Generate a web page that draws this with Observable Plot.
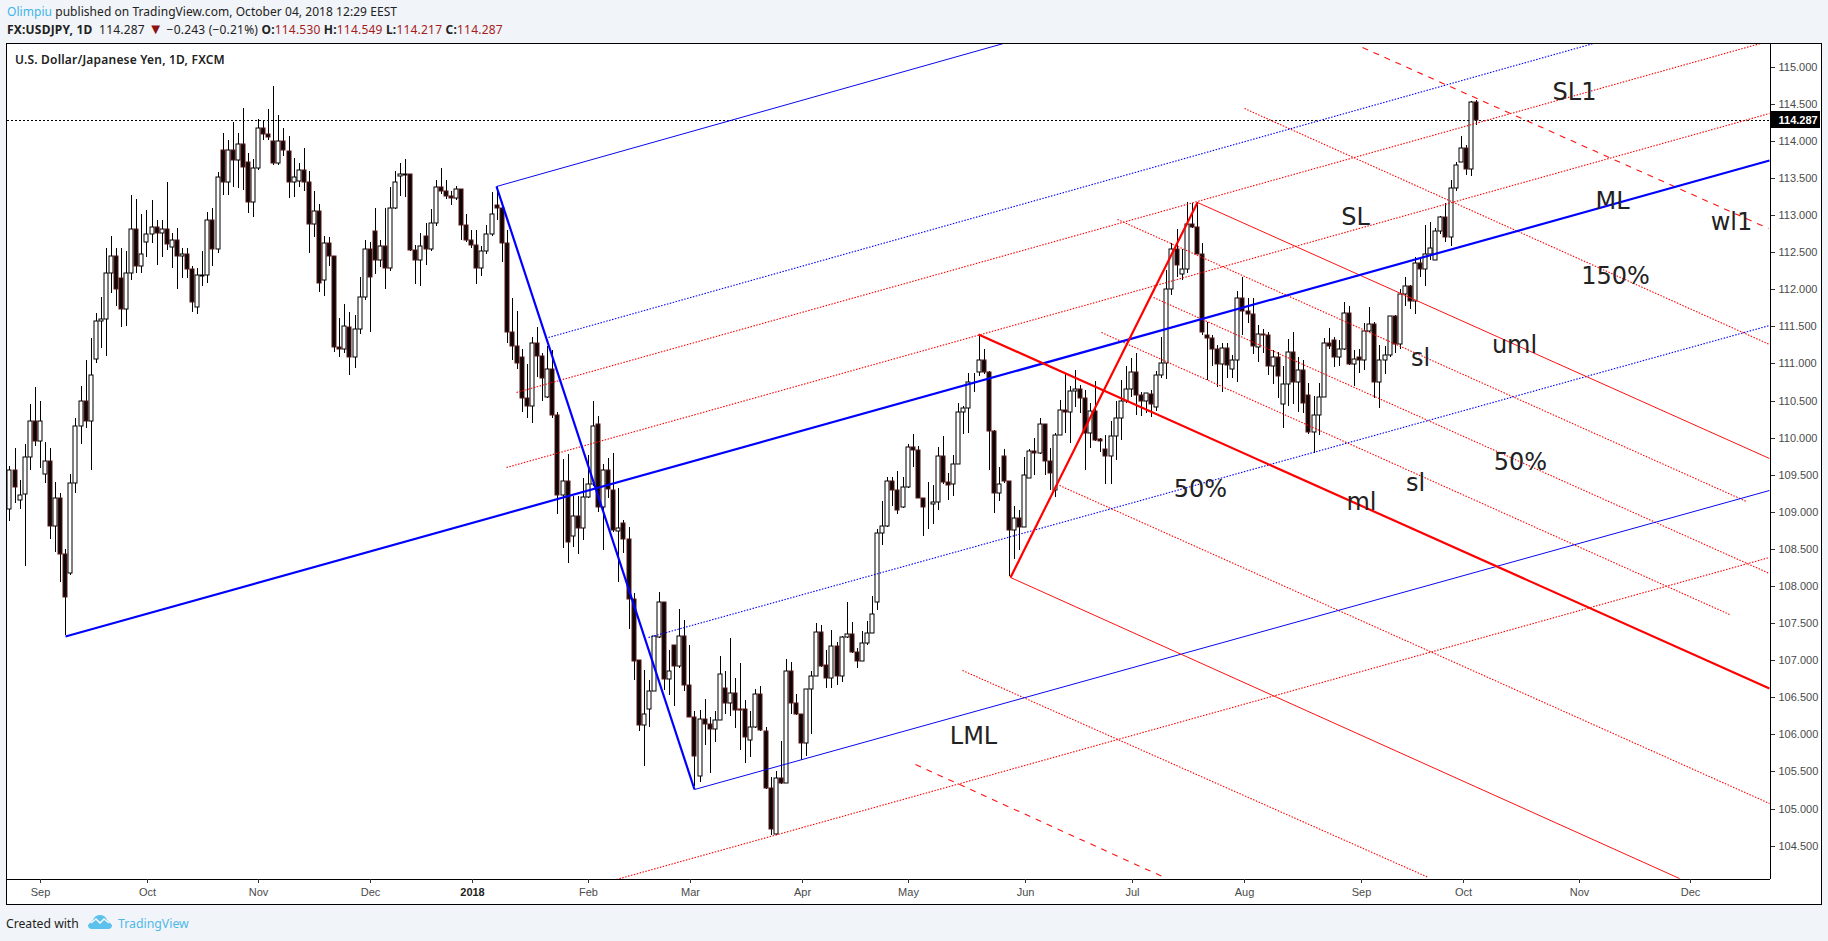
<!DOCTYPE html>
<html>
<head>
<meta charset="utf-8">
<script src="https://cdn.jsdelivr.net/npm/d3@7"></script>
<script src="https://cdn.jsdelivr.net/npm/@observablehq/plot@0.6"></script>
<style>
html,body{margin:0;padding:0;background:#f1f4f8;width:1828px;height:941px;overflow:hidden}
.t{position:absolute;white-space:nowrap;font-family:"Noto Sans",sans-serif;color:#222}
#frame{position:absolute;left:6px;top:43px;width:1814px;height:860px;border:1px solid #000;background:#fff}
#frame svg{display:block;background:#fff}
.b{color:#3fb4ea}.r{color:#a51c1c}
</style>
</head>
<body>
<div class="t" style="left:7px;top:3px;font-size:12px;line-height:18px;letter-spacing:.05px"><span class="b">Olimpiu</span> published on TradingView.com, October 04, 2018 12:29 EEST</div>
<div class="t" style="left:7px;top:21px;font-size:12px;line-height:18px;letter-spacing:.2px"><b>FX:USDJPY, 1D</b>&nbsp; 114.287 <span style="color:#8f1010;font-size:15px;line-height:12px">▼</span> −0.243 (−0.21%) <b>O:</b><span class="r">114.530</span> <b>H:</b><span class="r">114.549</span> <b>L:</b><span class="r">114.217</span> <b>C:</b><span class="r">114.287</span></div>
<div id="frame"></div>
<div class="t" style="left:15px;top:52px;font-size:12px;line-height:16px;font-weight:600;letter-spacing:.2px">U.S. Dollar/Japanese Yen, 1D, FXCM</div>
<div class="t" style="left:6px;top:915px;font-size:12.2px;line-height:18px">Created with</div>
<svg style="position:absolute;left:88px;top:914px" width="24" height="16" viewBox="0 0 24 16"><path d="M0 11 L5 6 Q7 1 12 1 Q17 1 19 6 L24 11 Q24 15 20 15 L4 15 Q0 15 0 11Z" fill="#5cc1ec"/><path d="M3 9 L8 5 L12 9 L16 5 L21 9" fill="none" stroke="#f1f4f8" stroke-width="1.6"/></svg>
<div class="t" style="left:118px;top:915px;font-size:12.3px;line-height:18px;color:#4fb8e8">TradingView</div>
<script>
const opens=[109.04,109.56,109.16,109.24,109.74,110.23,109.96,109.51,109.69,108.81,
109.18,108.43,108.17,109.39,110.15,110.49,110.22,111.06,111.57,111.60,
112.22,112.45,112.15,111.73,112.22,112.81,112.32,112.64,112.74,112.84,
112.76,112.81,112.57,112.67,112.45,112.47,112.27,111.76,112.18,112.19,
112.93,112.54,113.88,113.44,113.88,113.74,113.96,113.72,113.17,113.63,
114.18,114.09,114.00,113.70,114.00,113.87,113.45,113.46,113.61,113.45,
112.88,113.05,112.12,112.62,112.45,111.22,111.20,111.49,111.08,111.47,
111.90,112.54,112.79,112.40,112.58,112.28,113.09,113.53,113.54,113.55,
112.53,112.40,112.72,112.54,112.89,113.38,113.33,113.26,113.23,113.35,
112.86,112.66,112.59,112.28,112.52,112.74,113.13,113.09,112.63,111.43,
111.24,111.08,110.53,110.43,111.27,111.10,110.55,110.92,110.30,109.22,
109.41,108.68,108.95,108.78,109.20,109.38,110.18,109.06,109.56,109.30,
108.74,108.85,108.64,107.82,107.00,106.12,106.34,106.58,107.31,107.78,
106.74,107.20,106.92,107.32,106.66,106.23,105.44,106.21,106.14,106.07,
106.20,106.63,106.42,106.56,106.34,106.34,105.92,106.10,106.54,106.05,
105.27,104.65,105.41,105.34,106.85,106.42,106.27,105.88,106.61,106.78,
107.38,106.94,106.76,107.19,106.78,107.31,107.35,107.11,106.99,107.23,
107.36,107.78,108.71,108.81,109.42,109.30,109.07,109.33,109.87,109.83,
109.18,109.11,109.11,109.13,109.75,109.40,109.38,109.65,110.34,110.40,
110.75,110.88,111.04,110.89,110.09,109.25,109.75,109.41,108.76,108.91,
108.80,109.45,109.82,109.79,110.18,109.69,109.29,110.03,110.37,110.34,
110.63,110.66,110.54,110.06,110.36,109.98,109.84,109.75,110.02,110.26,
110.49,110.65,110.89,110.58,110.49,110.59,110.41,110.85,111.00,112.01,
112.54,112.20,112.27,112.88,112.84,112.47,111.38,111.34,111.19,110.99,
111.21,110.93,111.04,111.88,111.71,111.66,111.22,111.40,111.38,110.97,
111.08,110.45,110.72,111.15,110.75,110.91,110.58,110.07,110.30,110.55,
111.28,111.31,111.08,111.19,111.68,110.99,111.09,111.04,111.44,111.53,
110.75,111.04,111.11,111.64,111.26,111.93,112.04,111.84,112.36,112.27,
112.48,112.40,112.78,112.97,112.71,113.36,113.71,113.90,113.62,114.53];
const highs=[109.62,109.86,109.43,109.91,110.45,110.68,110.49,109.94,109.86,109.40,
109.26,108.50,109.51,110.26,110.70,111.04,111.34,111.68,111.90,112.55,
112.72,112.55,112.55,112.51,113.27,113.21,113.02,113.07,113.20,112.93,
112.93,113.44,112.76,112.82,112.55,112.55,112.31,112.28,112.51,113.04,
113.09,113.58,114.10,114.01,114.26,114.11,114.45,113.83,113.75,114.29,
114.28,114.43,114.74,114.35,114.17,114.07,113.77,113.70,113.91,113.59,
113.33,113.15,112.72,112.71,112.45,111.61,111.80,111.70,111.65,112.17,
112.67,112.64,113.09,112.67,113.09,113.38,113.59,113.70,113.75,113.55,
112.60,112.76,112.89,113.08,113.47,113.64,113.47,113.32,113.39,113.35,
113.02,112.80,112.80,112.58,112.87,113.31,113.39,113.18,112.80,111.88,
111.71,111.20,110.99,111.35,111.49,111.14,111.24,111.18,110.34,109.71,
109.78,109.21,109.21,109.45,109.77,110.49,110.29,109.65,109.72,109.79,
109.32,108.89,108.79,107.90,107.00,106.87,106.73,107.33,107.92,107.78,
107.14,107.20,107.69,107.54,107.21,106.31,106.33,106.48,106.23,106.32,
107.06,106.86,107.30,106.76,106.96,106.46,106.31,106.61,106.65,106.10,
105.42,105.50,105.91,107.01,106.97,106.55,106.27,106.61,106.86,107.50,
107.47,107.14,107.41,107.25,107.32,107.78,107.52,107.16,107.39,107.53,
107.87,108.77,109.14,109.47,109.47,109.55,109.47,109.92,110.05,109.89,
109.18,109.40,109.36,109.87,110.02,109.52,109.77,110.46,110.42,110.87,
110.87,111.40,111.19,110.90,110.10,109.61,109.84,109.41,109.08,109.02,
109.74,109.85,110.00,110.27,110.18,109.86,110.06,110.51,110.87,110.70,
110.91,110.71,110.64,110.46,110.76,109.99,110.04,110.22,110.49,110.78,
110.96,111.07,111.14,110.62,110.60,110.64,110.90,111.36,112.26,112.63,
112.81,112.54,113.18,113.16,113.18,112.62,111.56,111.38,111.25,111.27,
111.27,111.11,111.97,112.17,111.88,111.88,111.52,111.47,111.43,111.18,
111.16,110.96,111.33,111.43,111.09,111.05,110.73,110.56,110.74,111.34,
111.48,111.36,111.32,111.83,111.77,111.18,111.20,111.54,111.76,111.56,
111.25,111.23,111.64,111.65,112.01,112.17,112.06,112.44,112.44,112.87,
112.90,112.82,112.99,113.16,113.47,113.71,114.07,113.95,114.54,114.549];
const lows=[108.87,109.12,109.04,108.27,109.56,109.89,109.59,109.39,108.64,108.46,
108.06,107.34,108.15,109.26,109.92,110.13,109.56,111.01,111.21,111.10,
111.95,111.77,111.49,111.51,112.13,112.22,112.22,112.44,112.62,112.33,
112.44,112.53,112.28,112.01,112.15,112.15,111.70,111.67,112.05,112.08,
112.31,112.49,113.27,113.27,113.38,113.36,113.34,113.03,112.97,113.61,
114.01,114.01,113.68,113.68,113.79,113.23,113.25,113.38,113.32,112.49,
112.71,111.96,111.91,112.31,111.16,111.08,111.14,110.85,110.94,111.40,
111.85,111.42,112.20,112.30,112.01,112.24,113.08,113.26,113.25,112.51,
112.07,112.05,112.33,112.51,112.85,113.29,113.22,113.13,113.20,112.67,
112.64,112.55,112.07,112.18,112.48,112.72,112.93,112.37,111.28,111.05,
110.93,110.34,110.26,110.20,110.82,110.50,110.53,110.27,108.97,108.51,
108.31,108.53,108.43,108.62,109.18,109.35,109.00,108.48,109.18,108.73,
108.06,108.45,107.42,106.73,106.05,105.57,106.10,106.58,107.30,106.60,
106.53,106.38,106.90,106.58,106.23,105.31,105.36,105.86,105.48,105.90,
106.19,106.28,106.25,106.08,105.79,105.62,105.69,106.08,106.04,105.26,
104.64,104.64,105.33,105.34,106.28,106.26,105.66,105.71,106.01,106.78,
106.91,106.63,106.63,106.67,106.71,107.30,107.09,106.90,106.99,107.21,
107.36,107.67,108.55,108.80,109.08,108.97,109.05,109.32,109.61,109.18,
108.67,108.77,108.84,109.02,109.38,109.16,109.21,109.65,110.05,110.06,
110.62,110.83,110.86,109.56,108.98,109.14,109.39,108.13,108.37,108.49,
108.80,109.45,109.50,109.78,109.50,109.29,109.20,110.03,110.06,109.93,
110.41,110.33,109.56,109.86,109.95,109.81,109.38,109.38,109.70,109.97,
110.46,110.55,110.31,110.29,110.33,110.28,110.36,110.80,110.79,111.92,
112.17,112.13,112.22,112.82,112.47,111.38,110.77,110.97,110.68,110.61,
110.81,110.81,110.75,111.38,111.54,111.13,111.02,111.14,110.85,110.72,
110.53,110.13,110.42,110.45,110.34,110.33,110.05,109.79,110.04,110.55,
111.20,110.95,110.97,111.18,110.98,110.70,110.87,110.91,111.42,110.54,
110.40,110.86,111.09,111.14,111.20,111.77,111.74,111.67,112.17,112.04,
112.40,112.40,112.75,112.64,112.58,113.33,113.71,113.54,113.53,114.217];
const closes=[109.56,109.33,109.23,109.74,110.23,109.96,110.23,109.69,108.81,109.18,
108.43,107.85,109.39,110.15,110.49,110.22,110.84,111.57,111.60,112.22,
112.45,112.00,111.73,112.22,112.81,112.32,112.47,112.74,112.84,112.76,
112.81,112.61,112.67,112.45,112.47,112.27,111.83,112.19,112.19,112.93,
112.54,113.51,113.44,113.88,113.74,113.96,113.65,113.17,113.63,114.18,
114.09,114.05,113.70,114.00,113.88,113.45,113.51,113.61,113.45,112.88,
113.05,112.09,112.62,112.45,111.22,111.20,111.50,111.08,111.47,111.90,
112.54,112.16,112.40,112.58,112.28,113.09,113.45,113.55,113.55,112.53,
112.40,112.58,112.54,112.89,113.38,113.33,113.26,113.23,113.35,112.86,
112.66,112.59,112.28,112.51,112.74,113.02,113.09,112.63,111.43,111.24,
111.00,110.53,110.43,111.27,111.10,110.81,110.92,110.30,109.22,109.41,
108.59,108.95,108.78,109.20,109.38,110.15,109.06,109.56,109.31,108.75,
108.78,108.64,107.82,106.99,106.12,106.28,106.58,107.32,107.78,106.74,
106.86,106.92,107.32,106.66,106.23,105.71,106.21,106.14,106.07,106.20,
106.82,106.42,106.56,106.33,106.33,105.96,106.10,106.54,106.06,105.27,
104.72,105.41,105.34,106.85,106.42,106.27,105.88,106.61,106.78,107.38,
106.92,106.76,107.19,106.78,107.31,107.35,107.11,106.99,107.23,107.36,
107.62,108.71,108.81,109.42,109.30,109.02,109.33,109.87,109.83,109.18,
109.06,109.11,109.13,109.75,109.40,109.36,109.65,110.34,110.40,110.75,
110.75,111.04,110.89,110.09,109.25,109.37,109.41,108.76,108.91,108.80,
109.49,109.82,109.79,110.18,109.69,109.52,110.03,110.37,110.34,110.63,
110.66,110.54,110.06,110.36,109.97,109.96,109.75,110.02,110.26,110.49,
110.66,110.89,110.58,110.49,110.60,110.45,110.85,111.00,112.01,112.54,
112.33,112.27,112.88,112.84,112.47,111.42,111.34,111.19,110.99,111.21,
110.98,111.04,111.88,111.71,111.66,111.23,111.40,111.38,110.97,111.08,
110.83,110.72,111.15,110.75,110.91,110.46,110.07,110.30,110.55,111.28,
111.23,111.08,111.19,111.68,110.99,111.06,111.04,111.44,111.53,110.75,
111.04,111.11,111.64,111.26,111.93,112.05,111.84,112.36,112.27,112.48,
112.55,112.78,112.97,112.71,113.36,113.68,113.90,113.62,114.53,114.287];

const lastPrice=114.287;
const priceTicks=[104.5,105,105.5,106,106.5,107,107.5,108,108.5,109,109.5,110,110.5,111,111.5,112,112.5,113,113.5,114,114.5,115];
const monthTicks=[6.1,27.1,49,71,114,134.2,156.2,177.1,200.2,221.3,243.2,266.3,286.5,309.3,331.2];
const monthLabels=["Sep","Oct","Nov","Dec","Feb","Mar","Apr","May","Jun","Jul","Aug","Sep","Oct","Nov","Dec"];
const yearTick=[91.2];
const yearLabel="2018";

// trend lines, each [bar, price, bar, price]
const blueThick=[[11,107.33,346.8,113.74],[95.9,113.39,134.9,105.26]];
const blueThin=[[95.9,113.39,195.8,115.32],[134.9,105.26,346.8,109.30]];
const blueDotted=[[106.2,111.36,312.1,115.32],[125.9,107.31,346.8,111.52]];
const redThick=[[197.1,108.12,234.1,113.18],[190.9,111.40,346.8,106.62]];
const redThin=[[234.1,113.18,346.8,109.72],[197.1,108.12,329,104.07]];
const redDotted=[
 [99.8,110.61,345,115.32],[97.9,109.61,346.8,114.37],[119.5,104.05,346.8,108.39],
 [243.3,114.44,346.8,111.26],[218.3,112.95,342.2,109.15],[225.3,111.90,346.8,108.17],
 [215.1,111.42,338.9,107.62],[206.8,109.36,346.8,105.07],[187.7,106.87,279.6,104.08]];
const redDashed=[[266.6,115.27,346.6,112.82],[178.5,105.60,227.5,104.08]];

const labelText=["SL1","SL","ML","wl1","150%","uml","sl","50%","sl","ml","50%","LML"];
const labelBar=[308.4,265.2,315.8,339.3,316.4,296.6,278,297.7,277,266.4,234.6,189.8];
const labelPrice=[114.655,112.978,113.19,112.903,112.183,111.249,111.078,109.672,109.389,109.126,109.304,105.981];

const bars=d3.range(opens.length);
const up=bars.filter(i=>closes[i]>=opens[i]);
const down=bars.filter(i=>closes[i]<opens[i]);
const seg=(rows,o)=>Plot.link(rows,{x1:d=>d[0],y1:d=>d[1],x2:d=>d[2],y2:d=>d[3],...o});
const xEnd=346.96, yEnd=104.05;
const axisFont={fontSize:11,fontFamily:"'Liberation Sans',Arial,sans-serif"};

const chart=Plot.plot({
  width:1814,height:860,marginLeft:0,marginTop:0,marginRight:51,marginBottom:25,
  style:{background:"#fff"},
  x:{domain:[-0.49,xEnd],round:true,axis:null},
  y:{domain:[yEnd,115.306],round:true,axis:null},
  marks:[
    Plot.ruleY([lastPrice],{stroke:"#000",strokeWidth:1,strokeDasharray:"2 2",x1:-0.49,x2:xEnd}),
    Plot.ruleX(bars,{x:i=>i,y1:i=>lows[i],y2:i=>highs[i],stroke:"#000",strokeWidth:1}),
    Plot.rect(up,{x1:i=>i,x2:i=>i,y1:i=>opens[i],y2:i=>closes[i],insetLeft:-2,insetRight:-2,fill:"#fff",stroke:"#000",strokeWidth:1}),
    Plot.rect(down,{x1:i=>i,x2:i=>i,y1:i=>opens[i],y2:i=>closes[i],insetLeft:-2,insetRight:-2,fill:"#0d0606",stroke:"#551616",strokeWidth:1}),
    seg(redDotted,{stroke:"#ff0000",strokeWidth:1.1,strokeDasharray:"1.5 1.5"}),
    seg(blueDotted,{stroke:"#0000ff",strokeWidth:1.1,strokeDasharray:"1.5 1.5"}),
    seg(redDashed,{stroke:"#ff1010",strokeWidth:1.1,strokeDasharray:"6 6"}),
    seg(blueThin,{stroke:"#0808f0",strokeWidth:1}),
    seg(redThin,{stroke:"#ff1010",strokeWidth:1}),
    seg(blueThick,{stroke:"#0000ff",strokeWidth:2.2}),
    seg(redThick,{stroke:"#ff0000",strokeWidth:2.2}),
    Plot.text(labelText,{x:(d,i)=>labelBar[i],y:(d,i)=>labelPrice[i],text:d=>d,fontSize:24,fontFamily:"'DejaVu Sans',sans-serif",fill:"#222"}),
    Plot.ruleY([yEnd],{stroke:"#000",strokeWidth:1}),
    Plot.ruleX([xEnd],{stroke:"#000",strokeWidth:1}),
    Plot.axisY(priceTicks,{anchor:"right",tickSize:4,tickPadding:4,tickFormat:d3.format(".3f"),label:null,stroke:"#333",color:"#4a4a4a",...axisFont}),
    Plot.axisX(monthTicks,{anchor:"bottom",tickSize:4,tickPadding:5,tickFormat:(d,i)=>monthLabels[i],label:null,stroke:"#333",color:"#4a4a4a",...axisFont}),
    Plot.axisX(yearTick,{anchor:"bottom",tickSize:4,tickPadding:5,tickFormat:()=>yearLabel,label:null,stroke:"#333",color:"#222",fontWeight:"bold",...axisFont}),
    Plot.rect([lastPrice],{x1:xEnd,x2:356.8,y1:d=>d-.113,y2:d=>d+.113,fill:"#000"}),
    Plot.text([lastPrice],{x:xEnd,y:d=>d,dx:8,textAnchor:"start",text:d3.format(".3f"),fill:"#fff",fontWeight:"bold",...axisFont})
  ]
});
document.getElementById("frame").appendChild(chart);
</script>
</body>
</html>
